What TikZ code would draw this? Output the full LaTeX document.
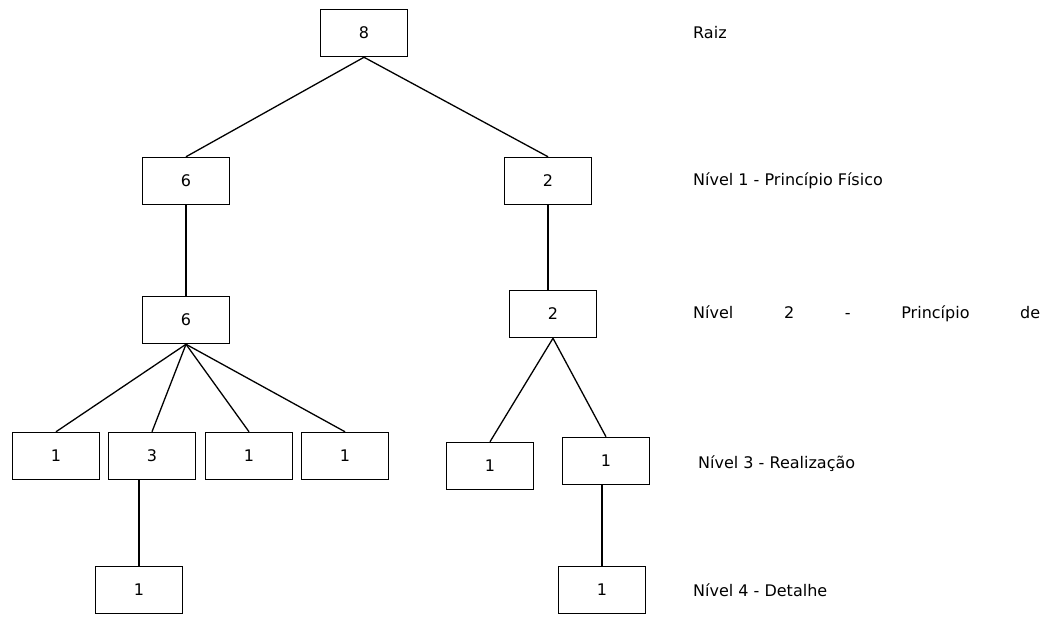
\documentclass[tikz,border=0pt]{standalone}
\usepackage{fontspec}
\setmainfont{DejaVu Sans}
\usetikzlibrary{positioning}
\tikzset{
  font=\fontsize{16}{19}\selectfont,
  % Tree box
  box/.style={draw, line width=1.5pt, minimum width=87pt, minimum
    height=47pt, inner sep=0pt},
  % Branch between boxes
  branch/.style={line width=1.3pt},
  % Level caption
  caption/.style={anchor=west, inner sep=0pt},
}

\begin{document}
\begin{tikzpicture}[x=1pt, y=-1pt]
  \useasboundingbox (0,0) rectangle (1046,633);

  % root and level 1
  \node[box] (root) at (364,33) {8};
  \node[box] (a) at (186,181) {6};
  \node[box] (b) at (548,181) {2};

  % level 2
  \node[box] (aa) at (186,320) {6};
  \node[box] (ba) at (553,314) {2};

  % level 3
  \node[box] (aaa) at (56,456) {1};
  \node[box] (aab) at (152,456) {3};
  \node[box] (aac) at (249,456) {1};
  \node[box] (aad) at (345,456) {1};
  \node[box] (baa) at (490,466) {1};
  \node[box] (bab) at (606,461) {1};

  % level 4
  \node[box] (aaba) at (139,590) {1};
  \node[box] (baba) at (602,590) {1};

  % branches
  \draw[branch] (root.south) -- (a.north);
  \draw[branch] (root.south) -- (b.north);
  \draw[branch] (a.south) -- (aa.north);
  \draw[branch] (b.south) -- (b.south |- ba.north);
  \draw[branch] (aa.south) -- (aaa.north);
  \draw[branch] (aa.south) -- (aab.north);
  \draw[branch] (aa.south) -- (aac.north);
  \draw[branch] (aa.south) -- (aad.north);
  \draw[branch] (ba.south) -- (baa.north);
  \draw[branch] (ba.south) -- (bab.north);
  \draw[branch] (aaba.north |- aab.south) -- (aaba.north);
  \draw[branch] (baba.north |- bab.south) -- (baba.north);

  % level captions
  \node[caption] (c0) at (693,33) {Raiz};
  \node[caption] (c1) at (693,181) {Nível 1 - Princípio Físico};
  \node[caption] (c2) at (693,314)
    {\hbox to 347pt{Nível\hfill 2\hfill -\hfill Princípio\hfill de}};
  \node[caption] (c3) at (698,464) {Nível 3 - Realização};
  \node[caption] (c4) at (693,590) {Nível 4 - Detalhe};
\end{tikzpicture}
\end{document}
